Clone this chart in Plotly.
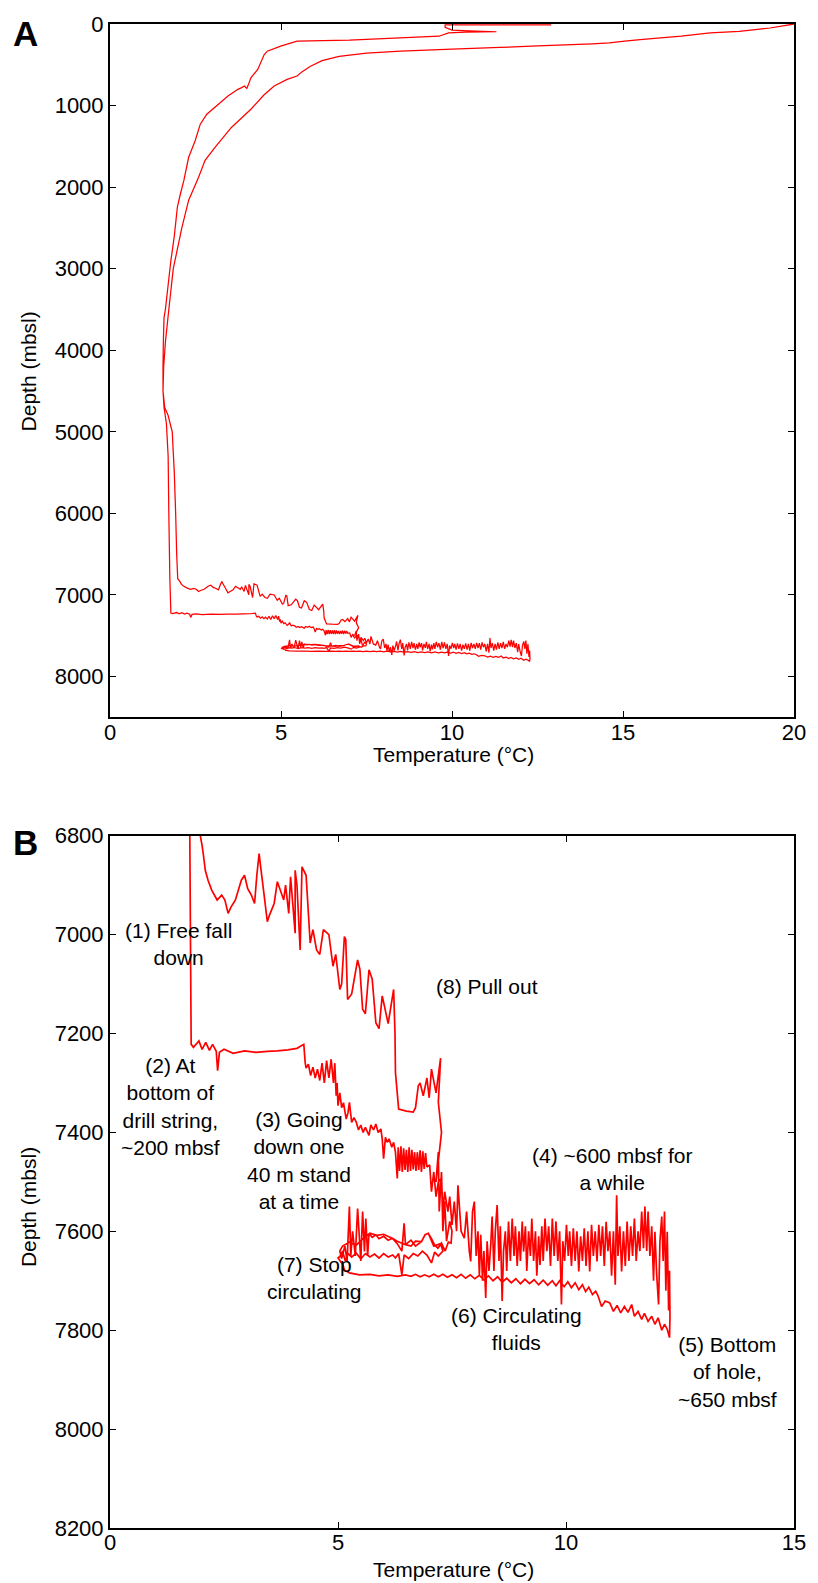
import plotly.graph_objects as go

# Temperature (degC) / depth (mbsl) pairs of the logging run, in the order recorded.
descent = [
    (20.0, 0), (19.3, 49), (18.4, 89), (17.55, 110), (16.7, 150), (15.5, 191),
    (15.05, 211), (14.6, 232), (14.1, 244), (12.5, 268), (11.4, 288), (10.0, 308),
    (8.5, 332), (7.5, 358), (6.7, 398), (6.2, 450), (5.85, 520), (5.6, 590),
    (5.47, 638), (5.18, 679), (4.8, 760), (4.5, 870), (4.12, 1045), (3.55, 1268),
    (3.07, 1512), (2.78, 1671), (2.59, 1878), (2.3, 2160), (2.1, 2500), (1.85, 3000),
    (1.72, 3500), (1.62, 3900), (1.57, 4200), (1.55, 4500), (1.58, 4700), (1.65, 4900),
    (1.7, 5300), (1.72, 6000), (1.75, 6800), (1.78, 7222),
]

drill_string_bottom = [
    (1.83, 7228), (1.95, 7215), (2.02, 7232), (2.1, 7218), (2.18, 7234), (2.25, 7222),
    (2.33, 7236), (2.36, 7275), (2.4, 7238), (2.5, 7232), (2.7, 7240), (2.95, 7235),
    (3.2, 7238), (3.45, 7236), (3.67, 7235), (3.9, 7233), (4.1, 7230), (4.25, 7222),
    (4.28, 7259),
]

going_down = [
    (4.30, 7270), (4.35, 7262), (4.40, 7285), (4.45, 7268), (4.50, 7290), (4.55, 7272),
    (4.60, 7295), (4.65, 7260), (4.70, 7300), (4.75, 7255), (4.80, 7290), (4.85, 7252),
    (4.90, 7300), (4.93, 7260), (4.96, 7326), (4.98, 7300), (5.00, 7346), (5.04, 7320),
    (5.08, 7350), (5.12, 7340), (5.18, 7373), (5.22, 7360), (5.25, 7339), (5.30, 7380),
    (5.35, 7370), (5.40, 7379), (5.45, 7395), (5.50, 7385), (5.55, 7400), (5.60, 7390),
    (5.68, 7406), (5.72, 7385), (5.78, 7395), (5.83, 7383), (5.88, 7400), (5.94, 7393),
    (5.97, 7413), (6.00, 7453), (6.04, 7410), (6.08, 7420), (6.12, 7413), (6.18, 7430),
    (6.22, 7420), (6.26, 7440), (6.30, 7493), (6.32, 7430), (6.35, 7478), (6.38, 7428),
    (6.41, 7480), (6.44, 7432), (6.47, 7476), (6.50, 7435), (6.53, 7480), (6.56, 7430),
    (6.59, 7478), (6.62, 7435), (6.65, 7475), (6.68, 7440), (6.71, 7478), (6.74, 7440),
    (6.77, 7476), (6.80, 7436), (6.83, 7480), (6.86, 7438), (6.89, 7474), (6.92, 7442),
    (6.95, 7470), (7.01, 7466), (7.05, 7520), (7.10, 7480), (7.15, 7530), (7.20, 7500),
    (7.27, 7493), (7.30, 7560), (7.34, 7520), (7.41, 7560), (7.45, 7530), (7.50, 7587),
    (7.55, 7540), (7.60, 7600), (7.63, 7507), (7.70, 7600), (7.77, 7614), (7.82, 7560),
    (7.88, 7640),
]

station_600mbsf = [
    (7.91, 7661), (7.95, 7560), (7.99, 7540), (8.03, 7650), (8.07, 7600), (8.10, 7690),
    (8.13, 7607), (8.17, 7700), (8.20, 7640), (8.24, 7735), (8.27, 7620), (8.31, 7680),
    (8.35, 7627), (8.38, 7570), (8.42, 7680), (8.45, 7600), (8.49, 7547), (8.53, 7660),
    (8.56, 7590), (8.60, 7741), (8.63, 7640), (8.67, 7600), (8.70, 7680), (8.74, 7580),
    (8.78, 7660), (8.82, 7574), (8.86, 7650), (8.89, 7590), (8.93, 7670), (8.97, 7600),
    (9.00, 7660), (9.04, 7580), (9.07, 7641), (9.11, 7590), (9.14, 7680), (9.18, 7600),
    (9.22, 7650), (9.25, 7574), (9.29, 7660), (9.33, 7600), (9.36, 7690), (9.40, 7610),
    (9.43, 7668), (9.47, 7590), (9.50, 7660), (9.54, 7574), (9.58, 7640), (9.62, 7590),
    (9.66, 7670), (9.70, 7574), (9.74, 7650), (9.78, 7580), (9.82, 7660), (9.86, 7600),
    (9.90, 7748), (9.93, 7620), (9.97, 7660), (10.01, 7587), (10.05, 7650), (10.08, 7600),
    (10.12, 7670), (10.16, 7594), (10.20, 7660), (10.24, 7600), (10.28, 7681), (10.32, 7610),
    (10.36, 7660), (10.40, 7594), (10.44, 7670), (10.48, 7600), (10.52, 7681), (10.56, 7587),
    (10.60, 7650), (10.64, 7600), (10.68, 7661), (10.72, 7587), (10.76, 7650), (10.80, 7590),
    (10.84, 7670), (10.88, 7581), (10.92, 7640), (10.96, 7600), (11.00, 7690), (11.04, 7600),
    (11.08, 7708), (11.11, 7527), (11.14, 7650), (11.18, 7590), (11.22, 7681), (11.26, 7600),
    (11.30, 7670), (11.34, 7580), (11.38, 7660), (11.42, 7590), (11.46, 7650), (11.50, 7574),
    (11.54, 7660), (11.58, 7600), (11.62, 7640), (11.66, 7560), (11.70, 7634), (11.73, 7550),
    (11.77, 7640), (11.80, 7560), (11.84, 7650), (11.88, 7590), (11.92, 7700), (11.95, 7601),
    (11.99, 7690), (12.03, 7748), (12.06, 7620), (12.10, 7570), (12.13, 7660), (12.16, 7560),
    (12.19, 7720), (12.22, 7601), (12.25, 7760), (12.27, 7680), (12.28, 7775), (12.27, 7815),
]

circulating = [
    (12.22, 7798), (12.16, 7788), (12.10, 7800), (12.02, 7775), (11.95, 7788), (11.88, 7772),
    (11.80, 7782), (11.72, 7766), (11.66, 7778), (11.58, 7762), (11.50, 7772), (11.44, 7748),
    (11.36, 7764), (11.28, 7752), (11.20, 7765), (11.12, 7750), (11.04, 7762), (10.96, 7745),
    (10.86, 7741), (10.78, 7752), (10.70, 7730), (10.65, 7721), (10.58, 7728), (10.50, 7713),
    (10.43, 7722), (10.36, 7708), (10.28, 7718), (10.20, 7704), (10.12, 7714), (10.04, 7702),
    (9.96, 7712), (9.86, 7700), (9.78, 7710), (9.70, 7700), (9.60, 7709), (9.50, 7699),
    (9.40, 7708), (9.30, 7698), (9.20, 7706), (9.10, 7697), (9.00, 7706), (8.90, 7696),
    (8.80, 7704), (8.70, 7695), (8.60, 7703), (8.50, 7692), (8.40, 7700), (8.30, 7690),
    (8.20, 7698), (8.10, 7689), (8.00, 7696), (7.90, 7688), (7.80, 7695), (7.70, 7687),
    (7.60, 7694), (7.50, 7688), (7.40, 7693), (7.30, 7687), (7.20, 7692), (7.10, 7687),
    (7.00, 7692), (6.90, 7688), (6.80, 7692), (6.70, 7687), (6.60, 7691), (6.48, 7688),
    (6.30, 7691), (6.10, 7688), (5.90, 7690), (5.70, 7687), (5.47, 7688), (5.25, 7684),
    (5.14, 7678), (5.11, 7668), (5.00, 7654),
]

stop_circulating = [
    (5.04, 7651), (5.10, 7640), (5.16, 7660), (5.22, 7645), (5.30, 7652), (5.40, 7644),
    (5.50, 7656), (5.60, 7645), (5.70, 7652), (5.80, 7646), (5.90, 7654), (6.00, 7645),
    (6.10, 7652), (6.20, 7648), (6.26, 7654), (6.33, 7645), (6.40, 7688), (6.45, 7648),
    (6.55, 7655), (6.65, 7645), (6.75, 7650), (6.85, 7640), (6.95, 7648), (7.05, 7664),
    (7.12, 7642), (7.20, 7650), (7.30, 7640), (7.25, 7625), (7.10, 7630), (6.98, 7604),
    (6.91, 7607), (6.83, 7621), (6.70, 7630), (6.60, 7618), (6.48, 7627), (6.45, 7584),
    (6.40, 7640), (6.30, 7625), (6.19, 7614), (6.10, 7618), (6.00, 7610), (5.90, 7615),
    (5.83, 7607), (5.75, 7612), (5.68, 7604), (5.65, 7650), (5.61, 7574), (5.58, 7641),
    (5.54, 7560), (5.50, 7660), (5.43, 7554), (5.38, 7650), (5.32, 7600), (5.28, 7650),
    (5.25, 7550), (5.20, 7660), (5.15, 7630), (5.08, 7655), (5.04, 7640), (5.10, 7630),
    (5.25, 7622), (5.40, 7628), (5.55, 7615), (5.70, 7604), (5.85, 7608), (6.00, 7606),
    (6.19, 7614), (6.30, 7620), (6.48, 7627), (6.60, 7630), (6.70, 7620), (6.83, 7621),
    (6.91, 7607), (6.98, 7604), (7.05, 7615), (7.12, 7628), (7.19, 7634), (7.27, 7624),
    (7.35, 7640), (7.42, 7622), (7.48, 7624),
]

pull_out = [
    (7.50, 7600), (7.45, 7580), (7.38, 7620), (7.34, 7540), (7.30, 7600), (7.27, 7480),
    (7.22, 7560), (7.20, 7440), (7.15, 7500), (7.27, 7400), (7.20, 7339), (7.25, 7250),
    (7.15, 7320), (7.05, 7272), (7.00, 7330), (6.95, 7290), (6.87, 7326), (6.80, 7300),
    (6.76, 7306), (6.70, 7350), (6.65, 7359), (6.50, 7357), (6.33, 7353), (6.28, 7300),
    (6.26, 7279), (6.25, 7200), (6.22, 7111), (6.10, 7180), (5.97, 7124), (5.90, 7190),
    (5.83, 7178), (5.75, 7090), (5.68, 7071), (5.60, 7160), (5.54, 7151), (5.48, 7070),
    (5.43, 7051), (5.30, 7120), (5.21, 7131), (5.17, 7010), (5.14, 7004), (5.08, 7100),
    (5.04, 7111), (4.95, 7040), (4.89, 7064), (4.80, 7000), (4.68, 6990), (4.60, 7040),
    (4.53, 7031), (4.45, 6990), (4.39, 7017), (4.30, 6880), (4.21, 6863), (4.17, 7031),
    (4.10, 6900), (4.06, 6870), (4.06, 6997), (3.96, 6883), (3.92, 6957), (3.85, 6900),
    (3.81, 6930), (3.67, 6893), (3.60, 6937), (3.50, 6960), (3.45, 6974), (3.38, 6920),
    (3.30, 6860), (3.27, 6836), (3.22, 6880), (3.17, 6937), (3.10, 6920), (3.02, 6907),
    (2.95, 6880), (2.88, 6890), (2.75, 6930), (2.65, 6945), (2.59, 6957), (2.52, 6930),
    (2.45, 6920), (2.35, 6930), (2.23, 6910), (2.15, 6890), (2.09, 6870), (2.05, 6840),
    (2.02, 6820), (1.98, 6800),
]

water_column = [
    (1.95, 6500), (1.92, 6000), (1.88, 5500), (1.82, 5000), (1.70, 4800), (1.60, 4700),
    (1.55, 4500), (1.55, 4200), (1.56, 3900), (1.58, 3600), (1.62, 3500), (1.70, 3200),
    (1.78, 2900), (1.88, 2600), (1.97, 2244), (2.06, 2081), (2.16, 1918), (2.30, 1634),
    (2.49, 1431), (2.64, 1228), (2.83, 1106), (3.17, 984), (3.45, 882), (3.74, 801),
    (3.85, 780), (3.93, 760), (4.00, 790), (4.05, 740), (4.12, 659), (4.32, 557),
    (4.51, 374), (4.60, 333), (4.99, 272), (5.47, 211), (7.00, 199), (9.62, 150),
    (9.90, 110), (10.40, 100), (11.30, 95), (10.50, 85), (10.00, 75), (9.80, 40),
    (9.80, 12), (12.90, 12),
]

run = (descent + drill_string_bottom + going_down + station_600mbsf
       + circulating + stop_circulating + pull_out + water_column)
temperature = [p[0] for p in run]
depth = [p[1] for p in run]

depth_ticks_a = [0, 1000, 2000, 3000, 4000, 5000, 6000, 7000, 8000]
depth_ticks_b = [6800, 7000, 7200, 7400, 7600, 7800, 8000, 8200]
temp_ticks_a = [0, 5, 10, 15, 20]
temp_ticks_b = [0, 5, 10, 15]

FONT = "Liberation Sans, Arial, Helvetica, sans-serif"
RED = "#ff0000"

fig = go.Figure()
fig.add_trace(go.Scatter(x=temperature, y=depth, mode="lines", xaxis="x", yaxis="y",
                         line=dict(color=RED, width=1.25, simplify=False),
                         hoverinfo="skip", showlegend=False))
fig.add_trace(go.Scatter(x=temperature, y=depth, mode="lines", xaxis="x2", yaxis="y2",
                         line=dict(color=RED, width=1.7, simplify=False),
                         hoverinfo="skip", showlegend=False))

axis_common = dict(showline=True, linecolor="black", linewidth=2, mirror="ticks",
                   ticks="inside", ticklen=6, tickwidth=1.2, tickcolor="black",
                   showgrid=False, zeroline=False,
                   tickfont=dict(family=FONT, size=22, color="black"))

fig.update_layout(
    width=818, height=1583,
    margin=dict(l=110, r=13, t=16, b=55),
    paper_bgcolor="white", plot_bgcolor="white",
    font=dict(family=FONT, size=21, color="black"),
    xaxis=dict(domain=[0, 1], anchor="y", range=[0, 20], tickvals=temp_ticks_a,
               ticklabelstandoff=-6, **axis_common),
    yaxis=dict(domain=[0.539, 1], anchor="x", range=[8500, 0], tickvals=depth_ticks_a,
               **axis_common),
    xaxis2=dict(domain=[0, 1], anchor="y2", range=[0, 15], tickvals=temp_ticks_b,
                ticklabelstandoff=-6, **axis_common),
    yaxis2=dict(domain=[0, 0.4603], anchor="x2", range=[8200, 6800], tickvals=depth_ticks_b,
                **axis_common),
)

paper_text = [
    ("Temperature (°C)", 0.502, 0.5146, 0),
    ("Temperature (°C)", 0.502, -0.0278, 0),
    ("Depth (mbsl)", -0.1194, 0.7692, -90),
    ("Depth (mbsl)", -0.1194, 0.2136, -90),
]
for text, xp, yp, ang in paper_text:
    fig.add_annotation(text=text, xref="paper", yref="paper", x=xp, y=yp,
                       textangle=ang, showarrow=False, xanchor="center", yanchor="middle",
                       font=dict(family=FONT, size=21, color="black"))

for letter, yp in (("A", 0.994), ("B", 0.4557)):
    fig.add_annotation(text=f"<b>{letter}</b>", xref="paper", yref="paper", x=-0.123, y=yp,
                       showarrow=False, xanchor="center", yanchor="middle",
                       font=dict(family=FONT, size=35, color="black"))

stage_labels = [
    ("(9) Water<br>column", 3.14, 6792),
    ("(1) Free fall<br>down", 1.51, 7020),
    ("(8) Pull out", 8.27, 7104),
    ("(2) At<br>bottom of<br>drill string,<br>~200 mbsf", 1.32, 7347),
    ("(3) Going<br>down one<br>40 m stand<br>at a time", 4.15, 7456),
    ("(4) ~600 mbsf for<br>a while", 11.01, 7475),
    ("(7) Stop<br>circulating", 4.49, 7694),
    ("(6) Circulating<br>fluids", 8.91, 7797),
    ("(5) Bottom<br>of hole,<br>~650 mbsf", 13.54, 7884),
]
for text, t, d in stage_labels:
    fig.add_annotation(text=text, xref="x2", yref="y2", x=t, y=d, showarrow=False,
                       xanchor="center", yanchor="middle", align="center",
                       font=dict(family=FONT, size=21, color="black"))

fig.write_html("out.html")
